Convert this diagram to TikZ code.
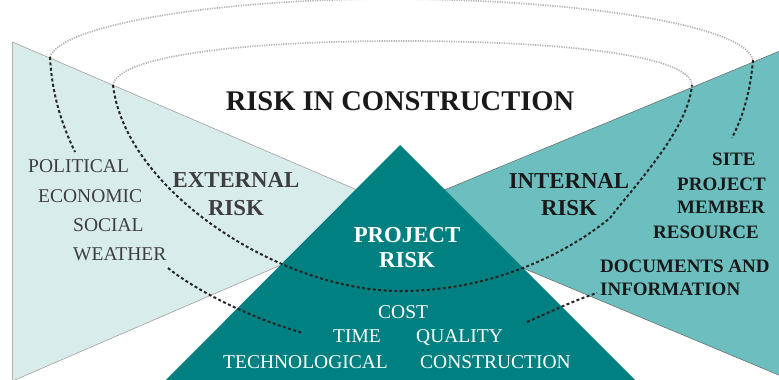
\documentclass[tikz,border=0pt]{standalone}
\usepackage{fontspec}
\setmainfont{Liberation Serif}
\usepackage{tikz}
\usetikzlibrary{positioning}

\definecolor{hellblau}{RGB}{217,236,236}
\definecolor{mittelblau}{RGB}{108,190,191}
\definecolor{dunkelblau}{RGB}{0,128,128}
\definecolor{textgrau}{RGB}{62,62,62}
\definecolor{punktgrau}{RGB}{178,178,178}

\begin{document}
\begin{tikzpicture}[x=1pt,y=-1pt,
    schwarzpunkt/.style={line width=2pt,dash pattern=on 3pt off 2.4pt,black!85},
    graupunkt/.style={line width=1.7pt,dash pattern=on 1.2pt off 1.2pt,punktgrau},
    liste/.style={inner sep=0pt,anchor=base west,font=\fontsize{19.5}{22}\selectfont},
    fettliste/.style={inner sep=0pt,anchor=base west,font=\fontsize{19}{22}\selectfont\bfseries,black!90},
    risiko/.style={inner sep=0pt,anchor=base,font=\fontsize{22.8}{25}\selectfont\bfseries}]
    \useasboundingbox (0,0) rectangle (779,380);
    % Dreiecke zeichnen
    \filldraw[fill=hellblau,draw=gray!75,line width=0.6pt] (12.5,42) coordinate(lo) -- (406,211) coordinate(lm) -- (12.5,381) coordinate(lu);
    \draw[gray!60,line width=1.4pt] (lo) -- (lu);
    \filldraw[fill=mittelblau,draw=black!60,line width=0.5pt] (781,50.5) coordinate(ro) -- (390,212.5) coordinate(rm) -- (781,376) coordinate(ru);
    \fill[dunkelblau] (400,145) coordinate(spitze) -- (164,382) -- (637,382);
    % Ringe
    \draw[graupunkt] (50,57) coordinate(a) .. controls (60,25) and (220,-2) .. (400,-1)
        .. controls (580,0) and (745,25) .. (753,60) coordinate(b);
    \draw[schwarzpunkt] (a) .. controls (52,95) and (62,125) .. (75,152);
    \draw[schwarzpunkt] (b) .. controls (750,95) and (742,118) .. (732,138);
    \draw[graupunkt] (113,85) coordinate(c) .. controls (118,55) and (250,41) .. (400,41)
        .. controls (560,41) and (690,55) .. (692,85) coordinate(d);
    \draw[schwarzpunkt] (c) .. controls (125,190) and (280,291) .. (400,291)
        .. controls (490,291) and (565,255) .. (610,218)
        .. controls (635,185) and (688,130) .. (d);
    \draw[schwarzpunkt] (168,268) .. controls (195,290) and (250,318) .. (303,333);
    \draw[schwarzpunkt] (527,322) .. controls (550,312) and (575,300) .. (597,293);
    % Texte
    \node[inner sep=0pt,anchor=base,font=\fontsize{28.5}{30}\selectfont\bfseries,black!90] (titel) at (400,110) {RISK IN CONSTRUCTION};
    \node[risiko,textgrau] (ext) at (236,187) {EXTERNAL};
    \node[risiko,textgrau] (extrisk) at (236,215) {RISK};
    \node[risiko,black!90] (int) at (569,188) {INTERNAL};
    \node[risiko,black!90] (intrisk) at (569,215) {RISK};
    \node[risiko,white] (proj) at (407,242) {PROJECT};
    \node[risiko,white] (projrisk) at (407,267) {RISK};
    \node[liste,textgrau] (pol) at (28,172.5) {POLITICAL};
    \node[liste,textgrau] (eco) at (38,202) {ECONOMIC};
    \node[liste,textgrau] (soc) at (73,231) {SOCIAL};
    \node[liste,textgrau] (wea) at (73,260) {WEATHER};
    \node[fettliste] (site) at (712,165) {SITE};
    \node[fettliste] (pro) at (677,190) {PROJECT};
    \node[fettliste] (mem) at (677,213) {MEMBER};
    \node[fettliste] (res) at (653,238) {RESOURCE};
    \node[fettliste] (doc) at (600,272) {DOCUMENTS AND};
    \node[fettliste] (inf) at (600,295) {INFORMATION};
    \node[liste,white] (cost) at (378,318) {COST};
    \node[liste,white] (time) at (333,342) {TIME};
    \node[liste,white] (qual) at (416,342) {QUALITY};
    \node[liste,white] (tech) at (223,368) {TECHNOLOGICAL};
    \node[liste,white] (cons) at (420,368) {CONSTRUCTION};
\end{tikzpicture}
\end{document}
